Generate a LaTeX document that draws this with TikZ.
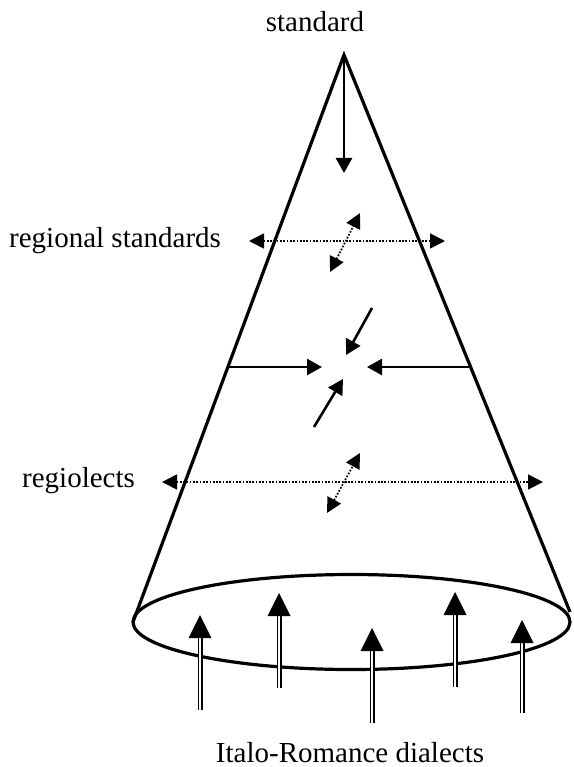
\documentclass[tikz,border=0pt]{standalone}
\usepackage{fontspec}
\setmainfont{Liberation Serif}
\usetikzlibrary{arrows.meta}
\tikzset{
  lbl/.style={font=\fontsize{29}{33}\selectfont, inner sep=0pt},
  cone/.style={line width=3.2pt, line join=miter},
  solidarr/.style={line width=2.6pt, -{Triangle[width=16pt,length=15pt]}},
  dotarr/.style={line width=1.7pt, dash pattern=on 1.7pt off 1.6pt,
     {Triangle[width=15pt,length=15pt]}-{Triangle[width=15pt,length=15pt]}},
  dblshaft/.style={double, double distance=2.2pt, line width=1.4pt},
  dblhead/.style={fill=black}
}
\newcommand{\dblarrow}[4]{% name, x, tip y, bottom y
  \coordinate (#1b) at (#2,#4);
  \coordinate (#1t) at (#2,#3);
  \coordinate (#1s) at (#2,#3+22);
  \draw[dblshaft] (#1b) -- (#1s);
  \fill[dblhead] (#1t) -- ++(-11.5,23) -- ++(23,0) -- cycle;
}
\begin{document}
\begin{tikzpicture}[x=1pt,y=-1pt]
\useasboundingbox (0,0) rectangle (573,767);
% labels
\node[lbl, anchor=base] (std) at (315,32) {standard};
\node[lbl, anchor=base west] (rs) at (9,247) {regional standards};
\node[lbl, anchor=base west] (rl) at (22,487) {regiolects};
\node[lbl, anchor=base] (ird) at (350,762) {Italo-Romance dialects};
% cone
\coordinate (apex) at (344,55);
\coordinate (bl) at (133,622);
\coordinate (br) at (570,612);
\draw[cone] (bl) -- (apex) -- (br);
\draw[line width=3.2pt] (351.5,622) ellipse [x radius=218.5, y radius=47.5];
% standard arrow
\coordinate (stdend) at (344,173);
\draw[solidarr] (apex) -- (stdend);
% regional standards dotted arrows
\coordinate (rsl) at (249,241);
\coordinate (rsr) at (445,241);
\draw[dotarr] (rsl) -- (rsr);
\coordinate (rsd1) at (330,272);
\coordinate (rsd2) at (360,213);
\draw[dotarr] (rsd1) -- (rsd2);
% middle converging arrows
\coordinate (ml) at (228,367);
\coordinate (mlt) at (322,367);
\coordinate (mr) at (472,367);
\coordinate (mrt) at (367,367);
\draw[solidarr] (ml) -- (mlt);
\draw[solidarr] (mr) -- (mrt);
\coordinate (mu) at (372,308);
\coordinate (mut) at (346,355);
\coordinate (md) at (314,427);
\coordinate (mdt) at (343,379);
\draw[solidarr] (mu) -- (mut);
\draw[solidarr] (md) -- (mdt);
% regiolects dotted arrows
\coordinate (rll) at (162,482);
\coordinate (rlr) at (543,482);
\draw[dotarr] (rll) -- (rlr);
\coordinate (rld1) at (327,513);
\coordinate (rld2) at (360,453);
\draw[dotarr] (rld1) -- (rld2);
% double arrows from dialects
\dblarrow{a}{200}{615}{710}
\dblarrow{b}{279}{593}{688}
\dblarrow{c}{372}{628}{723}
\dblarrow{d}{455}{592}{687}
\dblarrow{e}{522}{620}{713}
\end{tikzpicture}
\end{document}
